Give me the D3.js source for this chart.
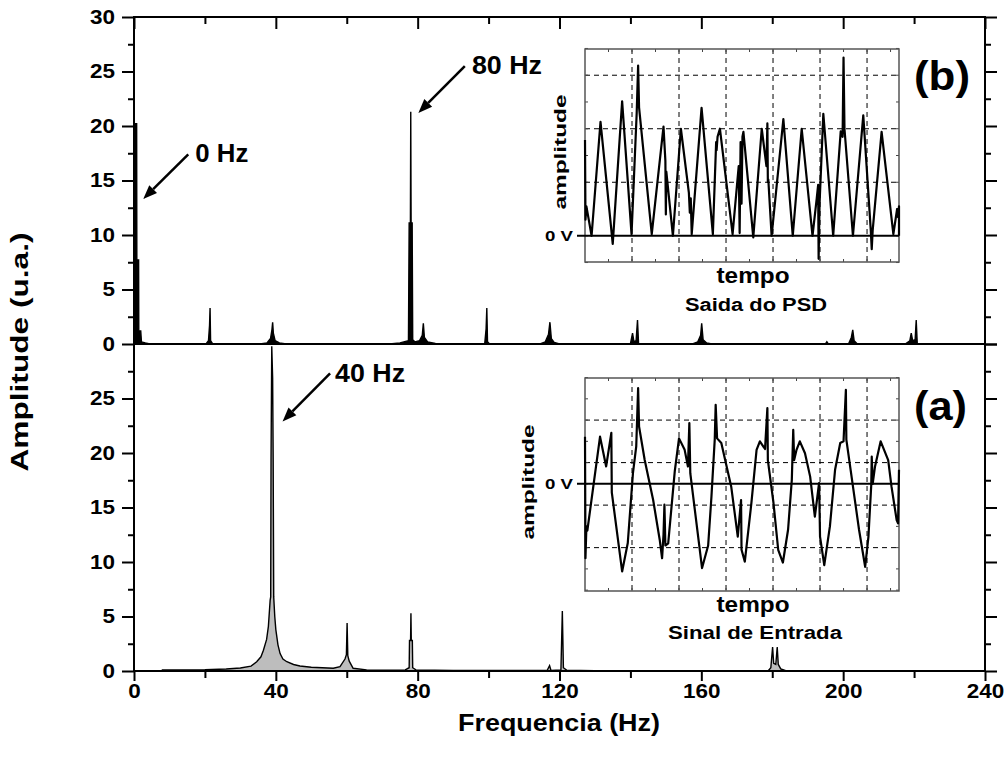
<!DOCTYPE html>
<html>
<head>
<meta charset="utf-8">
<script src="https://cdn.jsdelivr.net/npm/d3@7"></script>
<style>
  body { margin: 0; background: #fff; }
  text { font-family: "Liberation Sans", Arial, Helvetica, sans-serif; }
</style>
</head>
<body>
<svg id="chart" width="1007" height="760"></svg>
<script>
// frequency ticks / amplitude ticks
const freqTicks = [0, 40, 80, 120, 160, 200, 240];
const freqMinor = [20, 60, 100, 140, 180, 220];
const ampTicksTop = [0, 5, 10, 15, 20, 25, 30];
const ampTicksBottom = [0, 5, 10, 15, 20, 25];
const ampMinor = [2.5, 7.5, 12.5, 17.5, 22.5, 27.5];

// (b) spectrum of the PSD output: [Hz, u.a.]
const psdSpectrum = [
  [0, 0], [0, 20.2], [0.75, 20.2], [0.8, 7.7], [1.3, 7.7], [1.35, 1.2], [1.9, 1.2], [2.1, 0.2], [3.2, 0.1], [4.5, 0],
  [20.3, 0], [21.0, 0.3], [21.3, 1.7], [21.45, 3.3], [21.6, 0.3], [22.2, 0],
  [35.5, 0], [37.5, 0.1], [38.5, 0.5], [38.9, 1.3], [39.1, 2.0], [39.3, 1.0], [39.8, 0.3], [41, 0.1], [43, 0],
  [72, 0], [75, 0.1], [77.4, 0.3], [77.6, 11.1], [77.95, 11.1], [78.05, 21.3], [78.15, 11.1], [78.45, 11.1], [78.6, 0.4],
  [79.2, 0.2], [80.5, 0.3], [81.3, 0.8], [81.6, 1.9], [81.9, 0.6], [82.8, 0.2], [85, 0.05], [86, 0],
  [98.9, 0], [99.3, 1.4], [99.5, 3.3], [99.7, 0.2], [100.3, 0],
  [114.5, 0], [116, 0.2], [116.9, 0.9], [117.3, 2.0], [117.7, 0.5], [118.5, 0.15], [120, 0],
  [140, 0], [140.6, 1.0], [141.0, 0.2], [141.6, 0.3], [142.0, 2.2], [142.3, 0],
  [157.5, 0], [159, 0.2], [159.8, 0.8], [160.1, 1.9], [160.5, 0.4], [161.5, 0.1], [163, 0],
  [195, 0], [195.4, 0.2], [195.8, 0],
  [201.5, 0], [202.3, 0.6], [202.7, 1.3], [203.1, 0.3], [204, 0],
  [217.5, 0], [218.8, 0.3], [219.2, 1.0], [219.6, 0.3], [220.3, 0.4], [220.6, 2.2], [220.9, 0], [240, 0]
];

// (a) spectrum of the input signal: [Hz, u.a.]
const inputSpectrum = [
  [0, 0], [7.8, 0], [8.0, 0.1], [20, 0.12], [26, 0.18], [30, 0.28], [33, 0.45], [34.6, 0.85], [35.8, 1.3],
  [36.5, 1.9], [37.4, 2.9], [37.9, 4.1], [38.4, 6.5], [38.55, 6.8], [38.65, 19.4], [38.85, 29.8], [39.1, 26.9],
  [39.25, 19.4], [39.4, 6.8], [39.7, 5.0], [40.0, 3.8], [40.6, 2.4], [41.2, 1.6], [42, 1.1], [43.1, 0.85],
  [45, 0.6], [46.8, 0.46], [50, 0.35], [56.2, 0.25], [58.1, 0.4], [59.5, 1.1], [59.9, 1.5], [60.1, 4.4],
  [60.3, 1.4], [60.7, 0.9], [61.8, 0.25], [65.6, 0.1], [70, 0.08], [76.5, 0.1], [77.6, 0.3], [77.7, 2.8],
  [78.0, 2.8], [78.1, 5.3], [78.2, 2.8], [78.5, 2.8], [78.6, 0.3], [79.5, 0.1], [90, 0.05], [116.5, 0.05],
  [117.2, 0.5], [117.6, 0.05], [120.4, 0.1], [120.8, 5.5], [121.1, 0.3], [122, 0.08], [130, 0.03], [140, 0],
  [178.8, 0], [179.6, 0.3], [180.1, 2.2], [180.4, 0.7], [181.0, 0.6], [181.4, 2.2], [181.7, 0.6], [182.4, 0.2],
  [184, 0], [240, 0]
];

// oscilloscope traces: [time (div), voltage (div)]
const psdTrace = [
  [0, 1.79], [0.01, 0.3], [0.03, 0.55], [0.06, 0.4], [0.14, 0.0], [0.33, 2.13], [0.59, -0.15], [0.79, 2.51],
  [0.99, 0.03], [1.10, 2.3], [1.13, 3.18], [1.15, 2.4], [1.42, 0.03], [1.67, 2.04], [1.71, 1.4], [1.72, 0.4],
  [1.73, 1.2], [1.87, 0.0], [2.04, 2.0], [2.21, 0.8], [2.23, 0.43], [2.25, 0.7], [2.27, 0.03], [2.48, 2.39],
  [2.72, 0.03], [2.79, 1.75], [2.80, 1.6], [2.82, 1.85], [2.87, 2.0], [3.14, 0.03], [3.27, 1.3], [3.29, 0.05],
  [3.31, 1.75], [3.33, 0.6], [3.35, 1.85], [3.37, 1.94], [3.58, -0.03], [3.76, 2.0], [3.86, 1.3], [3.88, 2.1],
  [3.89, 1.0], [3.90, 1.05], [3.97, 0.0], [4.22, 2.18], [4.42, 0.0], [4.61, 2.0], [4.84, 0.0], [4.93, 0.7],
  [4.96, 0.95], [4.97, -0.43], [4.99, 0.6], [5.07, 2.28], [5.28, 0.0], [5.44, 1.95], [5.48, 1.85], [5.50, 3.33],
  [5.52, 2.0], [5.70, 0.0], [5.92, 2.25], [6.08, 0.1], [6.10, -0.25], [6.12, 0.1], [6.31, 1.94], [6.56, 0.03],
  [6.64, 0.5], [6.66, 0.35], [6.68, 0.55], [6.68, 0.0]
];
const inputTrace = [
  [0, 1.11], [0.01, -1.75], [0.03, -1.0], [0.05, -1.1], [0.32, 1.11], [0.45, 0.41], [0.56, 1.2], [0.57, -0.2],
  [0.79, -2.06], [0.91, -1.39], [1.02, 0.25], [1.09, 0.88], [1.13, 2.25], [1.15, 1.35], [1.27, 0.56],
  [1.45, -0.38], [1.59, -1.32], [1.64, -1.75], [1.67, -1.2], [1.69, -0.49], [1.71, -1.45], [1.77, -1.4],
  [1.91, 0.3], [2.0, 1.07], [2.12, 0.8], [2.19, 0.41], [2.22, 1.43], [2.24, 0.25], [2.49, -1.98], [2.62, -1.45],
  [2.69, -0.3], [2.76, 1.04], [2.78, 1.86], [2.81, 1.07], [2.90, 0.96], [3.11, -0.06], [3.25, -1.24],
  [3.32, -0.38], [3.33, -1.55], [3.40, -1.83], [3.54, -0.45], [3.65, 0.8], [3.72, 1.0], [3.83, 0.82],
  [3.88, 1.78], [3.89, 0.56], [4.01, -0.45], [4.11, -1.55], [4.21, -1.85], [4.32, -1.08], [4.40, 0.1],
  [4.43, 1.27], [4.45, 0.56], [4.50, 0.8], [4.57, 1.0], [4.68, 0.72], [4.79, 0.17], [4.89, -0.77], [4.98, 0.02],
  [5.0, -1.24], [5.09, -1.91], [5.21, -1.0], [5.32, 0.33], [5.43, 0.96], [5.5, 1.0], [5.55, 2.21], [5.56, 1.04],
  [5.68, 0.1], [5.83, -1.08], [5.96, -1.95], [6.03, -1.24], [6.09, -0.02], [6.10, 0.64], [6.12, 0.0],
  [6.17, 0.41], [6.29, 1.0], [6.45, 0.56], [6.52, -0.06], [6.63, -0.85], [6.66, -0.93], [6.68, 0.33]
];

const svg = d3.select("#chart");
const plotL = 134, plotR = 985, plotT = 17, plotM = 344, plotB = 671;

const x = d3.scaleLinear().domain([0, 240]).range([plotL, plotR]);
const yTop = d3.scaleLinear().domain([0, 30]).range([plotM, plotT]);
const yBot = d3.scaleLinear().domain([0, 30]).range([plotB, plotM]);

// stretched text helper (the original lettering is wider than Arial)
function label(g, str, px, py, size, len, opts = {}) {
  const t = g.append("text")
    .attr("x", px).attr("y", py)
    .attr("font-size", size)
    .attr("font-weight", opts.weight || "bold")
    .attr("text-anchor", opts.anchor || "start")
    .attr("textLength", len)
    .attr("lengthAdjust", "spacingAndGlyphs")
    .attr("fill", "#000")
    .text(str);
  if (opts.rotate) t.attr("transform", `rotate(${opts.rotate},${px},${py})`);
  return t;
}

// spectra
function spectrum(data, y, fill) {
  const area = d3.area().x(d => x(d[0])).y0(y(0)).y1(d => y(d[1]));
  const line = d3.line().x(d => x(d[0])).y(d => y(d[1]));
  svg.append("path").attr("d", area(data)).attr("fill", fill);
  svg.append("path").attr("d", line(data))
    .attr("fill", "none").attr("stroke", "#000").attr("stroke-width", 1.4);
}
spectrum(psdSpectrum, yTop, "#000");
spectrum(inputSpectrum, yBot, "#bdbdbd");

// axes
function clean(g, labels) {
  g.select(".domain").remove();
  g.selectAll("line").attr("stroke", "#000").attr("stroke-width", 2);
  if (labels) {
    g.selectAll("text")
      .attr("font-size", 20).attr("font-weight", "bold").attr("fill", "#000")
      .attr("textLength", d => String(d).length * 12.5)
      .attr("lengthAdjust", "spacingAndGlyphs");
  } else {
    g.selectAll("text").remove();
  }
}

[[yTop, ampTicksTop], [yBot, ampTicksBottom]].forEach(([y, ticks]) => {
  svg.append("g").attr("transform", `translate(${plotL},0)`)
    .call(d3.axisLeft(y).tickValues(ticks).tickSize(12).tickPadding(7).tickFormat(d3.format("d")))
    .call(g => clean(g, true));
  svg.append("g").attr("transform", `translate(${plotL},0)`)
    .call(d3.axisLeft(y).tickValues(ampMinor).tickSize(6))
    .call(g => clean(g, false));
  svg.append("g").attr("transform", `translate(${plotR},0)`)
    .call(d3.axisLeft(y).tickValues(ampTicksTop).tickSize(-12))
    .call(g => clean(g, false));
  svg.append("g").attr("transform", `translate(${plotR},0)`)
    .call(d3.axisLeft(y).tickValues(ampMinor).tickSize(-6))
    .call(g => clean(g, false));
});

svg.append("g").attr("transform", `translate(0,${plotB})`)
  .call(d3.axisBottom(x).tickValues(freqTicks).tickSize(10).tickPadding(3))
  .call(g => clean(g, true));
svg.append("g").attr("transform", `translate(0,${plotB})`)
  .call(d3.axisBottom(x).tickValues(freqMinor).tickSize(7))
  .call(g => clean(g, false));
svg.append("g").attr("transform", `translate(0,${plotT})`)
  .call(d3.axisTop(x).tickValues(freqTicks).tickSize(-12))
  .call(g => clean(g, false));
svg.append("g").attr("transform", `translate(0,${plotT})`)
  .call(d3.axisTop(x).tickValues(freqMinor).tickSize(-7))
  .call(g => clean(g, false));

// frame
svg.append("rect").attr("x", plotL).attr("y", plotT)
  .attr("width", plotR - plotL).attr("height", plotB - plotT)
  .attr("fill", "none").attr("stroke", "#000").attr("stroke-width", 2);
svg.append("line").attr("x1", plotL).attr("x2", plotR).attr("y1", plotM).attr("y2", plotM)
  .attr("stroke", "#000").attr("stroke-width", 2);

// axis titles
label(svg, "Amplitude (u.a.)", 28, 352, 23, 239, { anchor: "middle", rotate: -90 });
label(svg, "Frequencia (Hz)", 559, 731, 23, 202, { anchor: "middle" });

// arrows with peak annotations
function arrow(f1, a1, f2, a2, y) {
  const x1 = x(f1), y1 = y(a1), x2 = x(f2), y2 = y(a2);
  const ang = Math.atan2(y2 - y1, x2 - x1);
  const L = 14, Wd = 5.5;
  const bx = x2 - L * Math.cos(ang), by = y2 - L * Math.sin(ang);
  svg.append("line").attr("x1", x1).attr("y1", y1).attr("x2", bx).attr("y2", by)
    .attr("stroke", "#000").attr("stroke-width", 2.5);
  const px = -Math.sin(ang) * Wd, py = Math.cos(ang) * Wd;
  svg.append("path")
    .attr("d", `M${x2},${y2}L${bx + px},${by + py}L${bx - px},${by - py}Z`)
    .attr("fill", "#000");
}
arrow(93.3, 25.5, 80.2, 21.2, yTop);
label(svg, "80 Hz", x(95.3), yTop(24.8), 25, 70);
arrow(15.3, 17.4, 2.6, 13.3, yTop);
label(svg, "0 Hz", x(17.3), yTop(16.7), 25, 53);
arrow(55.3, 27.3, 41.9, 22.9, yBot);
label(svg, "40 Hz", x(56.7), yBot(26.5), 25, 70);

// panel tags
label(svg, "(b)", 914, 90, 40, 56);
label(svg, "(a)", 914, 420, 40, 53);

// oscilloscope insets
function inset(o) {
  const g = svg.append("g");
  const ix = d3.scaleLinear().domain([0, 6.68]).range([585, 899]);
  const iy = d3.scaleLinear().domain(o.vDomain).range([o.yBottom, o.yTop]);
  g.append("rect").attr("x", 585).attr("y", o.yTop).attr("width", 314).attr("height", o.yBottom - o.yTop)
    .attr("fill", "#fff");
  // dashed grid
  g.selectAll(".vg").data([1, 2, 3, 4, 5, 6]).join("line")
    .attr("x1", d => ix(d)).attr("x2", d => ix(d)).attr("y1", o.yTop).attr("y2", o.yBottom)
    .attr("stroke", "#000").attr("stroke-width", 1).attr("stroke-dasharray", "5,4");
  g.selectAll(".hg").data(o.hGrid).join("line")
    .attr("x1", 585).attr("x2", 899).attr("y1", d => iy(d)).attr("y2", d => iy(d))
    .attr("stroke", "#000").attr("stroke-width", 1).attr("stroke-dasharray", "5,4");
  // small edge ticks
  const tt = d3.range(0.5, 6.6, 0.5);
  g.selectAll(".tt").data(tt).join("line")
    .attr("x1", d => ix(d)).attr("x2", d => ix(d)).attr("y1", o.yTop).attr("y2", o.yTop + 3)
    .attr("stroke", "#444");
  g.selectAll(".tb").data(tt).join("line")
    .attr("x1", d => ix(d)).attr("x2", d => ix(d)).attr("y1", o.yBottom).attr("y2", o.yBottom - 3)
    .attr("stroke", "#444");
  g.selectAll(".tl").data(o.vTicks).join("line")
    .attr("x1", 585).attr("x2", 588).attr("y1", d => iy(d)).attr("y2", d => iy(d))
    .attr("stroke", "#444");
  g.selectAll(".tr").data(o.vTicks).join("line")
    .attr("x1", 899).attr("x2", 896).attr("y1", d => iy(d)).attr("y2", d => iy(d))
    .attr("stroke", "#444");
  g.append("rect").attr("x", 585).attr("y", o.yTop).attr("width", 314).attr("height", o.yBottom - o.yTop)
    .attr("fill", "none").attr("stroke", "#555").attr("stroke-width", 1.5);
  // 0 V reference
  g.append("line").attr("x1", 577).attr("x2", 899).attr("y1", iy(0)).attr("y2", iy(0))
    .attr("stroke", "#000").attr("stroke-width", 2);
  // trace
  g.append("path")
    .attr("d", d3.line().x(d => ix(d[0])).y(d => iy(d[1]))(o.trace))
    .attr("fill", "none").attr("stroke", "#000").attr("stroke-width", 2.2)
    .attr("stroke-linejoin", "round");
  // labels
  label(g, "0 V", 573, iy(0) + 5, 14, 28, { anchor: "end" });
  label(g, "amplitude", o.ampX, o.ampY, 17, 115, { anchor: "middle", rotate: -90 });
  label(g, "tempo", 753, o.yBottom + 21, 22, 73, { anchor: "middle" });
  label(g, o.caption, o.capX, o.yBottom + o.capDy, 18, o.capLen, { anchor: "middle" });
}

inset({
  trace: psdTrace, vDomain: [-0.49, 3.49], yTop: 49, yBottom: 262,
  hGrid: [1, 2, 3], vTicks: d3.range(-0.5, 3.51, 0.5),
  ampX: 566, ampY: 152, caption: "Saida do PSD", capX: 756, capDy: 49, capLen: 142
});
inset({
  trace: inputTrace, vDomain: [-2.52, 2.49], yTop: 378, yBottom: 591,
  hGrid: [-1.5, -0.5, 0.5, 1.5], vTicks: d3.range(-2.5, 2.51, 0.5),
  ampX: 534, ampY: 482, caption: "Sinal de Entrada", capX: 755, capDy: 48, capLen: 174
});
</script>
</body>
</html>
